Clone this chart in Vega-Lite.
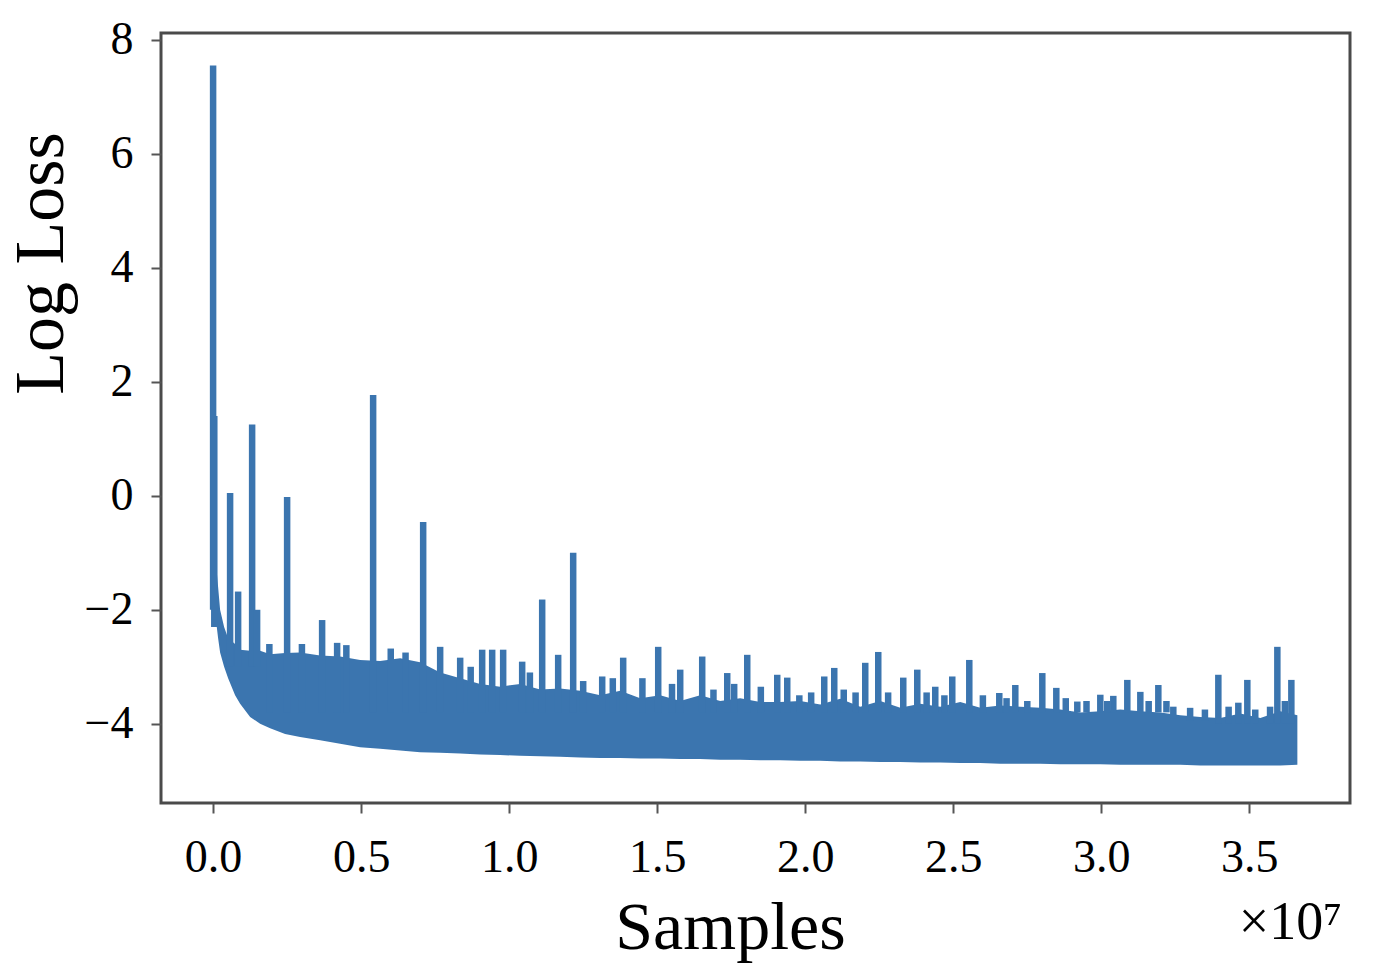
{
  "$schema": "https://vega.github.io/schema/vega-lite/v6.json",
  "width": 1189,
  "height": 770,
  "autosize": {"type": "none"},
  "padding": {"left": 161, "top": 33, "right": 24, "bottom": 167},
  "background": "white",
  "config": {
    "view": {"stroke": "#4a4a4a", "strokeWidth": 3},
    "font": "Liberation Serif"
  },
  "title": {"text": "×10⁷", "orient": "bottom", "anchor": "end", "fontSize": 54, "fontWeight": "normal", "font": "Liberation Serif", "color": "black", "offset": -66, "dx": -8},
  "datasets": {
    "band": [
      {"samples": 0.0101, "low": -2.2, "high": -1.2},
      {"samples": 0.0169, "low": -2.5, "high": -1.6},
      {"samples": 0.0236, "low": -2.75, "high": -2.0},
      {"samples": 0.0372, "low": -3.0, "high": -2.3},
      {"samples": 0.0507, "low": -3.2, "high": -2.5},
      {"samples": 0.0743, "low": -3.5, "high": -2.6},
      {"samples": 0.0912, "low": -3.65, "high": -2.7},
      {"samples": 0.125, "low": -3.88, "high": -2.72},
      {"samples": 0.1588, "low": -4.0, "high": -2.72},
      {"samples": 0.1926, "low": -4.08, "high": -2.78},
      {"samples": 0.2432, "low": -4.18, "high": -2.76},
      {"samples": 0.2939, "low": -4.23, "high": -2.75},
      {"samples": 0.3615, "low": -4.29, "high": -2.8},
      {"samples": 0.4291, "low": -4.35, "high": -2.82},
      {"samples": 0.4966, "low": -4.41, "high": -2.88},
      {"samples": 0.5642, "low": -4.44, "high": -2.9},
      {"samples": 0.6318, "low": -4.47, "high": -2.85},
      {"samples": 0.6993, "low": -4.5, "high": -2.92},
      {"samples": 0.7669, "low": -4.51, "high": -3.1},
      {"samples": 0.8345, "low": -4.52, "high": -3.2},
      {"samples": 0.902, "low": -4.54, "high": -3.3},
      {"samples": 0.9696, "low": -4.55, "high": -3.35},
      {"samples": 1.0372, "low": -4.56, "high": -3.3},
      {"samples": 1.1047, "low": -4.57, "high": -3.4},
      {"samples": 1.1723, "low": -4.58, "high": -3.38},
      {"samples": 1.2399, "low": -4.59, "high": -3.42},
      {"samples": 1.3074, "low": -4.6, "high": -3.5},
      {"samples": 1.375, "low": -4.6, "high": -3.42},
      {"samples": 1.4426, "low": -4.61, "high": -3.55},
      {"samples": 1.5101, "low": -4.61, "high": -3.5},
      {"samples": 1.5777, "low": -4.62, "high": -3.6},
      {"samples": 1.6453, "low": -4.62, "high": -3.5},
      {"samples": 1.7128, "low": -4.63, "high": -3.6},
      {"samples": 1.7804, "low": -4.63, "high": -3.55},
      {"samples": 1.848, "low": -4.64, "high": -3.62},
      {"samples": 1.9155, "low": -4.64, "high": -3.62},
      {"samples": 1.9831, "low": -4.65, "high": -3.6},
      {"samples": 2.0507, "low": -4.65, "high": -3.66},
      {"samples": 2.1182, "low": -4.66, "high": -3.56},
      {"samples": 2.1858, "low": -4.66, "high": -3.7},
      {"samples": 2.2534, "low": -4.67, "high": -3.6},
      {"samples": 2.3209, "low": -4.67, "high": -3.72},
      {"samples": 2.3885, "low": -4.68, "high": -3.65},
      {"samples": 2.4561, "low": -4.68, "high": -3.7},
      {"samples": 2.5236, "low": -4.69, "high": -3.62},
      {"samples": 2.5912, "low": -4.69, "high": -3.72},
      {"samples": 2.6588, "low": -4.7, "high": -3.68},
      {"samples": 2.7264, "low": -4.7, "high": -3.7},
      {"samples": 2.7939, "low": -4.7, "high": -3.72},
      {"samples": 2.8615, "low": -4.71, "high": -3.75},
      {"samples": 2.9291, "low": -4.71, "high": -3.8},
      {"samples": 2.9966, "low": -4.71, "high": -3.78},
      {"samples": 3.0642, "low": -4.72, "high": -3.75},
      {"samples": 3.1318, "low": -4.72, "high": -3.78},
      {"samples": 3.1993, "low": -4.72, "high": -3.8},
      {"samples": 3.2669, "low": -4.72, "high": -3.85},
      {"samples": 3.3345, "low": -4.73, "high": -3.88},
      {"samples": 3.402, "low": -4.73, "high": -3.9},
      {"samples": 3.4696, "low": -4.73, "high": -3.82},
      {"samples": 3.5372, "low": -4.73, "high": -3.9},
      {"samples": 3.6047, "low": -4.73, "high": -3.78},
      {"samples": 3.6622, "low": -4.72, "high": -3.85}
    ],
    "spikes": [
      {"samples": 0.0, "base": -2.0, "peak": 7.55},
      {"samples": 0.004, "base": -2.3, "peak": 1.4},
      {"samples": 0.0574, "base": -3.0, "peak": 0.05},
      {"samples": 0.0845, "base": -3.0, "peak": -1.68},
      {"samples": 0.1318, "base": -3.0, "peak": 1.25},
      {"samples": 0.1486, "base": -3.0, "peak": -2.0},
      {"samples": 0.19, "base": -3.8, "peak": -2.6},
      {"samples": 0.25, "base": -3.8, "peak": -0.02},
      {"samples": 0.3, "base": -3.8, "peak": -2.6},
      {"samples": 0.3682, "base": -3.8, "peak": -2.18},
      {"samples": 0.4189, "base": -3.8, "peak": -2.58},
      {"samples": 0.45, "base": -3.8, "peak": -2.62},
      {"samples": 0.5405, "base": -3.8, "peak": 1.77},
      {"samples": 0.6, "base": -3.8, "peak": -2.68},
      {"samples": 0.65, "base": -3.8, "peak": -2.75},
      {"samples": 0.7095, "base": -3.8, "peak": -0.46},
      {"samples": 0.7669, "base": -3.8, "peak": -2.65},
      {"samples": 0.8345, "base": -3.8, "peak": -2.84},
      {"samples": 0.87, "base": -3.8, "peak": -3.0},
      {"samples": 0.9088, "base": -3.8, "peak": -2.7},
      {"samples": 0.9426, "base": -3.8, "peak": -2.7},
      {"samples": 0.9797, "base": -3.8, "peak": -2.7},
      {"samples": 1.0439, "base": -3.8, "peak": -2.91},
      {"samples": 1.07, "base": -3.8, "peak": -3.1},
      {"samples": 1.1115, "base": -3.8, "peak": -1.82},
      {"samples": 1.1655, "base": -3.8, "peak": -2.79},
      {"samples": 1.2162, "base": -3.8, "peak": -1.0},
      {"samples": 1.25, "base": -3.8, "peak": -3.25},
      {"samples": 1.3142, "base": -3.8, "peak": -3.17},
      {"samples": 1.35, "base": -3.8, "peak": -3.2},
      {"samples": 1.3851, "base": -3.8, "peak": -2.84},
      {"samples": 1.45, "base": -3.8, "peak": -3.2},
      {"samples": 1.5034, "base": -3.8, "peak": -2.65},
      {"samples": 1.55, "base": -3.8, "peak": -3.3},
      {"samples": 1.5777, "base": -3.8, "peak": -3.05},
      {"samples": 1.652, "base": -3.8, "peak": -2.82},
      {"samples": 1.69, "base": -3.8, "peak": -3.4},
      {"samples": 1.7365, "base": -3.8, "peak": -3.11},
      {"samples": 1.76, "base": -3.8, "peak": -3.3},
      {"samples": 1.8041, "base": -3.8, "peak": -2.79},
      {"samples": 1.85, "base": -3.8, "peak": -3.35},
      {"samples": 1.9054, "base": -3.8, "peak": -3.14},
      {"samples": 1.9392, "base": -3.8, "peak": -3.19},
      {"samples": 1.98, "base": -3.8, "peak": -3.5},
      {"samples": 2.02, "base": -3.8, "peak": -3.45},
      {"samples": 2.0642, "base": -3.8, "peak": -3.17},
      {"samples": 2.098, "base": -3.8, "peak": -3.02},
      {"samples": 2.13, "base": -3.8, "peak": -3.4},
      {"samples": 2.17, "base": -3.8, "peak": -3.45},
      {"samples": 2.2027, "base": -3.8, "peak": -2.93},
      {"samples": 2.2466, "base": -3.8, "peak": -2.74},
      {"samples": 2.28, "base": -3.8, "peak": -3.45},
      {"samples": 2.3311, "base": -3.8, "peak": -3.19},
      {"samples": 2.3784, "base": -3.8, "peak": -3.05},
      {"samples": 2.41, "base": -3.8, "peak": -3.45},
      {"samples": 2.4392, "base": -3.8, "peak": -3.35},
      {"samples": 2.47, "base": -3.8, "peak": -3.5},
      {"samples": 2.4966, "base": -3.8, "peak": -3.17},
      {"samples": 2.5541, "base": -3.8, "peak": -2.88},
      {"samples": 2.6, "base": -3.8, "peak": -3.5},
      {"samples": 2.6554, "base": -3.8, "peak": -3.46},
      {"samples": 2.68, "base": -3.8, "peak": -3.55},
      {"samples": 2.7095, "base": -3.8, "peak": -3.32},
      {"samples": 2.75, "base": -3.8, "peak": -3.6},
      {"samples": 2.8007, "base": -3.8, "peak": -3.11},
      {"samples": 2.848, "base": -3.8, "peak": -3.37},
      {"samples": 2.88, "base": -3.8, "peak": -3.55},
      {"samples": 2.9189, "base": -3.8, "peak": -3.61},
      {"samples": 2.95, "base": -3.8, "peak": -3.6},
      {"samples": 2.9966, "base": -3.8, "peak": -3.49},
      {"samples": 3.02, "base": -3.8, "peak": -3.6},
      {"samples": 3.0405, "base": -3.8, "peak": -3.51},
      {"samples": 3.0878, "base": -3.8, "peak": -3.23},
      {"samples": 3.1318, "base": -3.8, "peak": -3.44},
      {"samples": 3.16, "base": -3.8, "peak": -3.6},
      {"samples": 3.1926, "base": -3.8, "peak": -3.32},
      {"samples": 3.22, "base": -3.8, "peak": -3.6},
      {"samples": 3.2432, "base": -3.9, "peak": -3.7},
      {"samples": 3.3, "base": -3.95, "peak": -3.72},
      {"samples": 3.35, "base": -3.95, "peak": -3.75},
      {"samples": 3.3953, "base": -4.0, "peak": -3.14},
      {"samples": 3.43, "base": -4.0, "peak": -3.7},
      {"samples": 3.4628, "base": -4.0, "peak": -3.63},
      {"samples": 3.4932, "base": -4.0, "peak": -3.23},
      {"samples": 3.52, "base": -4.0, "peak": -3.75},
      {"samples": 3.57, "base": -4.0, "peak": -3.7},
      {"samples": 3.5946, "base": -4.0, "peak": -2.65},
      {"samples": 3.62, "base": -4.0, "peak": -3.6},
      {"samples": 3.6419, "base": -4.0, "peak": -3.23}
    ]
  },
  "layer": [
    {
      "data": {"name": "band"},
      "mark": {"type": "area", "color": "#3b75af", "interpolate": "linear"},
      "encoding": {
        "x": {
          "field": "samples", "type": "quantitative",
          "scale": {"domain": [-0.176, 3.84], "nice": false, "zero": false},
          "axis": {
            "title": "Samples", "values": [0, 0.5, 1, 1.5, 2, 2.5, 3, 3.5], "format": ".1f",
            "grid": false, "domain": false,
            "tickColor": "#555555", "tickWidth": 2, "tickSize": 10,
            "labelFont": "Liberation Serif", "labelFontSize": 46, "labelColor": "black", "labelPadding": 22,
            "titleFont": "Liberation Serif", "titleFontSize": 68, "titleFontWeight": "normal", "titleColor": "black",
            "titleX": 569, "titleY": 145, "titleBaseline": "alphabetic", "titleAlign": "center"
          }
        },
        "y": {
          "field": "low", "type": "quantitative",
          "scale": {"domain": [-5.39, 8.12], "nice": false, "zero": false},
          "axis": {
            "title": "Log Loss", "values": [-4, -2, 0, 2, 4, 6, 8], "format": "d",
            "grid": false, "domain": false,
            "tickColor": "#555555", "tickWidth": 2, "tickSize": 10,
            "labelFont": "Liberation Serif", "labelFontSize": 46, "labelColor": "black", "labelPadding": 18,
            "titleFont": "Liberation Serif", "titleFontSize": 70, "titleFontWeight": "normal", "titleColor": "black",
            "titleX": -99, "titleY": 230, "titleAngle": 270, "titleBaseline": "alphabetic", "titleAlign": "center"
          }
        },
        "y2": {"field": "high"}
      }
    },
    {
      "data": {"name": "spikes"},
      "mark": {"type": "rule", "color": "#3b75af", "strokeWidth": 6.5},
      "encoding": {
        "x": {"field": "samples", "type": "quantitative"},
        "y": {"field": "base", "type": "quantitative"},
        "y2": {"field": "peak"}
      }
    }
  ]
}
